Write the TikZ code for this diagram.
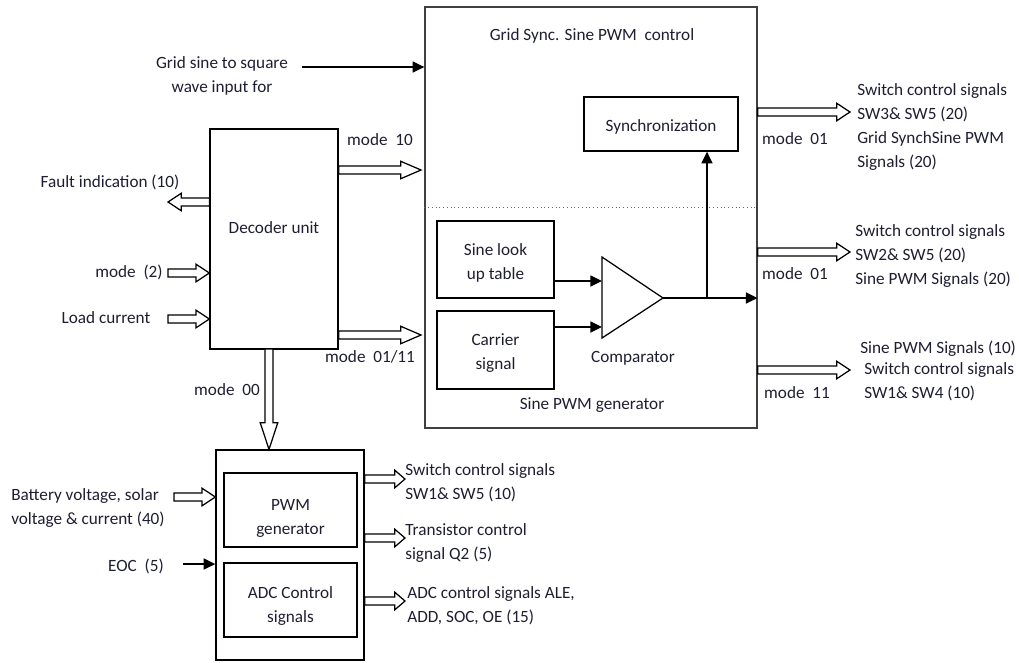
\documentclass[tikz,border=0pt]{standalone}
\usepackage{fontspec}
\setmainfont{Carlito}
\usetikzlibrary{arrows.meta,calc,fit}

\definecolor{txtc}{RGB}{30,30,50}

\tikzset{
  box/.style={draw, line width=0.8pt, inner sep=0pt},
  lbl/.style={inner sep=0pt, text=txtc},
  inlbl/.style={lbl, align=center},
  sig/.style={line width=1.2pt, -{Triangle[length=7.5pt,width=7pt]}},
  bushead/.store in=\bushead, bushead=8.5pt,
  bus/.style={draw, line width=0.8pt, fill=white, to path={
    let \p1=(\tikztostart), \p2=(\tikztotarget),
        \n1={atan2(\y2-\y1,\x2-\x1)}, \n2={veclen(\x2-\x1,\y2-\y1)} in
    ([shift={(\p1)},rotate=\n1]0pt,2.6pt)
    -- ([shift={(\p1)},rotate=\n1]\n2-\bushead,2.6pt)
    -- ([shift={(\p1)},rotate=\n1]\n2-\bushead,5.6pt)
    -- ([shift={(\p1)},rotate=\n1]\n2+0pt,0pt)
    -- ([shift={(\p1)},rotate=\n1]\n2-\bushead,-5.6pt)
    -- ([shift={(\p1)},rotate=\n1]\n2-\bushead,-2.6pt)
    -- ([shift={(\p1)},rotate=\n1]0pt,-2.6pt) -- cycle}},
}

\begin{document}
\begin{tikzpicture}[x=0.64pt, y=-0.64pt, font=\fontsize{11}{15.4}\selectfont]
  \useasboundingbox (0,0) rectangle (1019,662);

  % grid sync / sine PWM block
  \node[box, draw=black!75, fit={(425,7) (757,428)}] (grid) {};
  \node[lbl] (gridtitle) at (592,36) {Grid Sync. Sine PWM\ \ control};
  \coordinate (dl) at (425,207);
  \draw[dotted, black!60] (grid.west |- dl) -- (grid.east |- dl);
  \node[box, fit={(584,97) (738,151)}, label={[inlbl, yshift=-2pt]center:Synchronization}] (sync) {};
  \node[box, fit={(437,221) (554,298)}, label={[inlbl, yshift=-2.3pt]center:{Sine look\\up table}}] (lut) {};
  \node[box, fit={(437,311) (554,389)}, label={[inlbl, yshift=-2pt]center:{Carrier\\signal}}] (carrier) {};
  \node[lbl] (spwml) at (592,405) {Sine PWM generator};

  % comparator
  \coordinate (cmpa) at (602,257);
  \coordinate (cmptip) at (663,298);
  \coordinate (cmpb) at (602,338);
  \draw[line width=0.8pt] (cmpa) -- (cmptip) -- (cmpb) -- cycle;
  \node[lbl] (cmpl) at (633,358) {Comparator};
  \coordinate (cmpin1) at (602,281);
  \coordinate (cmpin2) at (602,327);
  \draw[sig] (lut.east |- cmpin1) -- (cmpin1);
  \draw[sig] (carrier.east |- cmpin2) -- (cmpin2);
  \coordinate (br) at (707,298);
  \draw[line width=1.2pt] (cmptip) -- (br);
  \draw[sig] (br) -- (grid.east |- br);
  \draw[sig] (br) -- (sync.south -| br);

  % grid input
  \node[lbl, align=center] (gridin) at (222,75.5) {Grid sine to square\\wave input for};
  \coordinate (gin) at (302,67);
  \draw[sig] (gin) -- (grid.west |- gin);

  % decoder
  \node[box, fit={(210,129) (338,349)}] (dec) {};
  \node[lbl] (decl) at (274,228) {Decoder unit};
  \coordinate (m10) at (421,170);
  \draw[bus, bushead=13pt] (dec.east |- m10) to (m10);
  \node[lbl] (m10l) at (380,140) {mode\ \ 10};
  \coordinate (m0111) at (421,335);
  \draw[bus, bushead=13pt] (dec.east |- m0111) to (m0111);
  \node[lbl] (m0111l) at (370,357) {mode\ \ 01/11};
  \coordinate (fault) at (168,202);
  \draw[bus] (dec.west |- fault) to (fault);
  \node[lbl] (faultl) at (110,182) {Fault indication (10)};
  \coordinate (modein) at (168,273);
  \draw[bus] (modein) to (dec.west |- modein);
  \node[lbl] (model) at (129,272) {mode\ \ (2)};
  \coordinate (loadin) at (168,319);
  \draw[bus] (loadin) to (dec.west |- loadin);
  \node[lbl] (loadl) at (106,318) {Load current};

  % PWM / ADC block
  \node[box, fit={(216,450) (364,660)}] (mppt) {};
  \node[box, fit={(224,473) (357,547)}, label={[inlbl, yshift=-5.5pt]center:{PWM\\generator}}] (pwm) {};
  \node[box, fit={(224,563) (357,637)}, label={[inlbl, yshift=-3.8pt]center:{ADC Control\\signals}}] (adc) {};
  \coordinate (m00) at (269,349);
  \draw[bus, bushead=17pt] (m00) to (mppt.north -| m00);
  \node[lbl] (m00l) at (227,390) {mode\ \ 00};
  \coordinate (batin) at (174,497);
  \draw[bus] (batin) to (mppt.west |- batin);
  \node[lbl, align=left, anchor=west] (batl) at (11,508) {Battery voltage, solar\\voltage \& current (40)};
  \coordinate (eoc) at (183,564);
  \draw[sig] (eoc) -- (mppt.west |- eoc);
  \node[lbl] (eocl) at (136,566) {EOC\ \ (5)};

  \coordinate (o1) at (405,479);
  \coordinate (o2) at (405,538);
  \coordinate (o3) at (405,601);
  \draw[bus, bushead=6.5pt] (mppt.east |- o1) to (o1);
  \draw[bus, bushead=6.5pt] (mppt.east |- o2) to (o2);
  \draw[bus, bushead=6.5pt] (mppt.east |- o3) to (o3);
  \node[lbl, align=left, anchor=west] (o1l) at (405,482.5) {Switch control signals\\SW1\& SW5 (10)};
  \node[lbl, align=left, anchor=west] (o2l) at (405,543) {Transistor control\\signal Q2 (5)};
  \node[lbl, align=left, anchor=west] (o3l) at (407,606) {ADC control signals ALE,\\ADD, SOC, OE (15)};

  % outputs of grid block
  \coordinate (r1) at (850,112);
  \coordinate (r2) at (850,252);
  \coordinate (r3) at (850,370);
  \draw[bus] (grid.east |- r1) to (r1);
  \draw[bus] (grid.east |- r2) to (r2);
  \draw[bus] (grid.east |- r3) to (r3);
  \node[lbl] (r1m) at (795,139) {mode\ \ 01};
  \node[lbl] (r2m) at (795,274) {mode\ \ 01};
  \node[lbl] (r3m) at (797,393) {mode\ \ 11};
  \node[lbl, align=left, anchor=west] (r1l) at (857,127) {Switch control signals\\SW3\& SW5 (20)\\Grid SynchSine PWM\\Signals (20)};
  \node[lbl, align=left, anchor=west] (r2l) at (855,256) {Switch control signals\\SW2\& SW5 (20)\\Sine PWM Signals (20)};
  \node[lbl, anchor=west] (r3a) at (860,349) {Sine PWM Signals (10)};
  \node[lbl, align=left, anchor=west] (r3l) at (864,382) {Switch control signals\\SW1\& SW4 (10)};
\end{tikzpicture}
\end{document}
